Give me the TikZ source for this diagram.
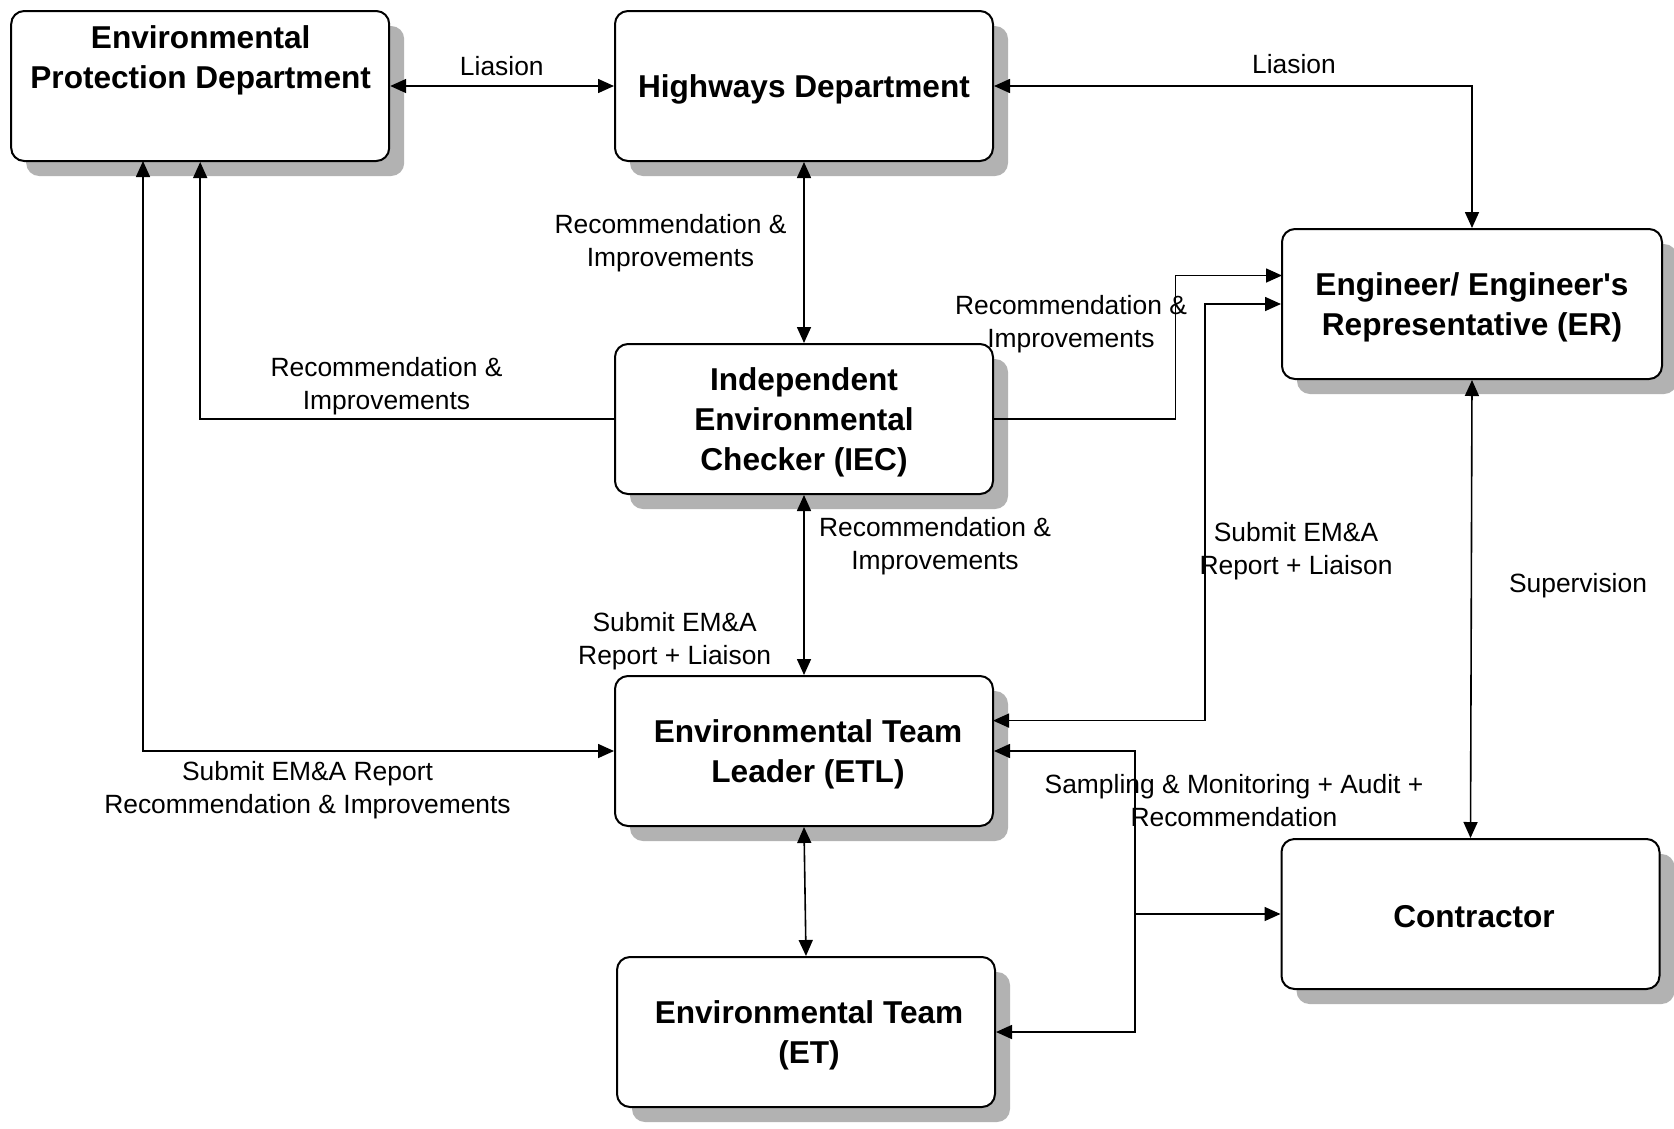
\documentclass[tikz,border=0pt]{standalone}
\usepackage{fontspec}
\newfontfamily\arial{Liberation Sans}
\usetikzlibrary{arrows.meta,shadows}
\begin{document}
\begin{tikzpicture}[x=1pt,y=-1pt,
  box/.style={draw=black, line width=2pt, rounded corners=13pt, fill=white,
    minimum width=378pt, minimum height=150pt, inner sep=0pt,
    drop shadow={shadow xshift=15pt, shadow yshift=-15pt, fill=black!30, opacity=1}},
  boxtext/.style={align=center, inner sep=0pt, font=\arial\fontsize{31.6}{40}\selectfont\bfseries},
  lbl/.style={align=center, inner sep=0pt, font=\arial\fontsize{26.4}{33}\selectfont},
  tip/.tip={Triangle[length=16pt,width=14pt]},
  conn/.style={line width=1.6pt, -tip},
  bconn/.style={line width=1.6pt, tip-tip}
]
\fill[white] (0,0) rectangle (1674,1128);
\useasboundingbox (0,0) rectangle (1674,1128);

% boxes
\node[box] (EPD) at (200.2,86) {};
\node[box] (HD) at (804,86) {};
\node[box, minimum width=380pt] (ER) at (1472,304) {};
\node[box] (IEC) at (804,419) {};
\node[box] (ETL) at (804,751) {};
\node[box] (ET) at (806,1032) {};
\node[box] (CON) at (1470.5,914) {};

% box texts
\node[boxtext] (EPDt) at (200.7,60) {Environmental\\Protection Department};
\node[boxtext] (HDt) at (804,89) {Highways Department};
\node[boxtext] (ERt) at (1472,307) {Engineer/ Engineer's\\Representative (ER)};
\node[boxtext] (IECt) at (804,422) {Independent\\Environmental\\Checker (IEC)};
\node[boxtext] (ETLt) at (808,754) {Environmental Team\\Leader (ETL)};
\node[boxtext] (ETt) at (809,1035) {Environmental Team\\(ET)};
\node[boxtext] (CONt) at (1474,917) {Contractor};

% helper coordinates
\coordinate (iecr) at (1175.5,419);
\coordinate (eru) at (1282,275.5);
\coordinate (erl) at (1205,304);
\coordinate (etlu) at (993,720.6);
\coordinate (epdl) at (143,161);
\coordinate (jm) at (1135,914);

% connectors
\draw[bconn] (EPD.east) -- (HD.west);
\draw[bconn] (HD.east) -| (ER.north);
\draw[bconn] (HD.south) -- (IEC.north);
\draw[conn] (IEC.west) -| (EPD.south);
\draw[bconn] (epdl) |- (ETL.west);
\draw[conn] (IEC.east) -- (iecr) |- (eru);
\draw[bconn] (etlu) -| (erl) -- (ER.west);
\draw[bconn] (ER.south) -- (CON.north);
\draw[bconn] (IEC.south) -- (ETL.north);
\draw[bconn] (ETL.south) -- (ET.north);
\draw[conn] (jm) |- (ETL.east);
\draw[conn] (jm) |- (ET.east);
\draw[conn] (jm) -- (CON.west);

% labels
\node[lbl] (l1) at (501.8,66) {Liasion};
\node[lbl] (l2) at (1294,64) {Liasion};
\node[lbl] (l3) at (670.5,243.5) {Recommendation \&\\Improvements};
\node[lbl] (l4) at (386.5,386.5) {Recommendation \&\\Improvements};
\node[lbl] (l5) at (307.5,790) {Submit EM\&A Report\\Recommendation \& Improvements};
\node[lbl] (l6) at (1071,324.5) {Recommendation \&\\Improvements};
\node[lbl] (l7) at (1296,551.5) {Submit EM\&A\\Report + Liaison};
\node[lbl] (l8) at (1578,586) {Supervision};
\node[lbl] (l9) at (935,546.5) {Recommendation \&\\Improvements};
\node[lbl] (l10) at (674.7,641) {Submit EM\&A\\Report + Liaison};
\node[lbl] (l11) at (1234,800.5) {Sampling \& Monitoring + Audit +\\Recommendation};
\end{tikzpicture}
\end{document}
